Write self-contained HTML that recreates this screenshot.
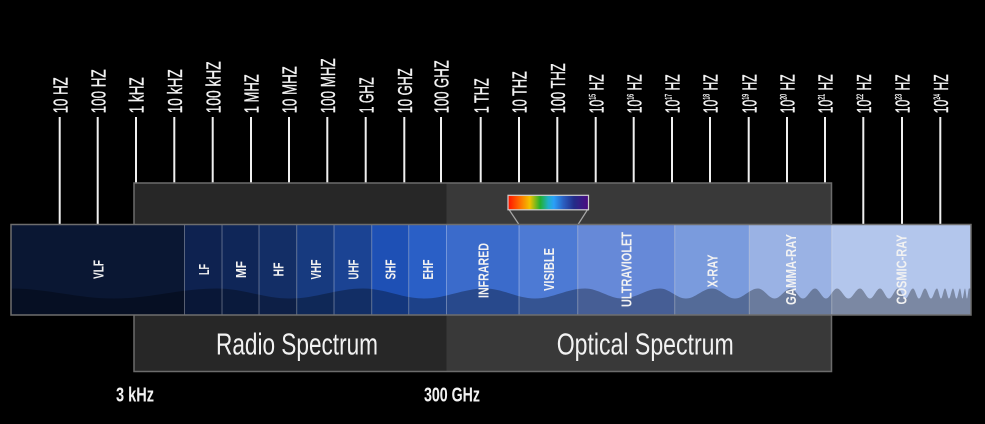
<!DOCTYPE html>
<html><head><meta charset="utf-8"><style>
html,body{margin:0;padding:0;background:#000;}
svg{display:block;}
text{font-family:"Liberation Sans Narrow","Liberation Sans",sans-serif;fill:#f2f2f2;}
</style></head><body>
<svg width="985" height="424" viewBox="0 0 985 424" xmlns="http://www.w3.org/2000/svg">
<defs>
<linearGradient id="rb" x1="0" y1="0" x2="1" y2="0">
<stop offset="0" stop-color="#ff1200"/>
<stop offset="0.14" stop-color="#ff6a00"/>
<stop offset="0.27" stop-color="#f2c200"/>
<stop offset="0.40" stop-color="#22b030"/>
<stop offset="0.50" stop-color="#1fb0c8"/>
<stop offset="0.57" stop-color="#2aa0f8"/>
<stop offset="0.69" stop-color="#2a5ec0"/>
<stop offset="0.82" stop-color="#232c88"/>
<stop offset="1" stop-color="#4c0a80"/>
</linearGradient>
<clipPath id="bandclip"><rect x="11" y="224.5" width="960" height="90.5"/></clipPath>
</defs>
<rect width="985" height="424" fill="#000"/>

<!-- tick lines -->
<g stroke="#f0f0f0" stroke-width="2">
<line x1="59.7" y1="117" x2="59.7" y2="225"/>
<line x1="97.7" y1="117" x2="97.7" y2="225"/>
<line x1="136" y1="117" x2="136" y2="184"/>
<line x1="174.3" y1="117" x2="174.3" y2="184"/>
<line x1="212.7" y1="117" x2="212.7" y2="184"/>
<line x1="251" y1="117" x2="251" y2="184"/>
<line x1="289" y1="117" x2="289" y2="184"/>
<line x1="327.3" y1="117" x2="327.3" y2="184"/>
<line x1="365.7" y1="117" x2="365.7" y2="184"/>
<line x1="404.3" y1="117" x2="404.3" y2="184"/>
<line x1="441" y1="117" x2="441" y2="184"/>
<line x1="480.7" y1="117" x2="480.7" y2="184"/>
<line x1="519" y1="117" x2="519" y2="184"/>
<line x1="557.3" y1="117" x2="557.3" y2="184"/>
<line x1="595.7" y1="117" x2="595.7" y2="184"/>
<line x1="633.7" y1="117" x2="633.7" y2="184"/>
<line x1="672" y1="117" x2="672" y2="184"/>
<line x1="710" y1="117" x2="710" y2="184"/>
<line x1="748.7" y1="117" x2="748.7" y2="184"/>
<line x1="787" y1="117" x2="787" y2="184"/>
<line x1="825" y1="117" x2="825" y2="184"/>
<line x1="863.3" y1="117" x2="863.3" y2="225"/>
<line x1="902" y1="117" x2="902" y2="225"/>
<line x1="940.3" y1="117" x2="940.3" y2="225"/>
</g>

<!-- tick labels -->
<g font-size="20.5" stroke="#f2f2f2" stroke-width="0.35">
<text transform="translate(67.4,113.3) rotate(-90)" textLength="36" lengthAdjust="spacingAndGlyphs">10 HZ</text>
<text transform="translate(105.4,113.3) rotate(-90)" textLength="44" lengthAdjust="spacingAndGlyphs">100 HZ</text>
<text transform="translate(143.7,113.3) rotate(-90)" textLength="36" lengthAdjust="spacingAndGlyphs">1 kHZ</text>
<text transform="translate(182,113.3) rotate(-90)" textLength="44" lengthAdjust="spacingAndGlyphs">10 kHZ</text>
<text transform="translate(220.4,113.3) rotate(-90)" textLength="52" lengthAdjust="spacingAndGlyphs">100 kHZ</text>
<text transform="translate(258.7,113.3) rotate(-90)" textLength="39" lengthAdjust="spacingAndGlyphs">1 MHZ</text>
<text transform="translate(296.7,113.3) rotate(-90)" textLength="47" lengthAdjust="spacingAndGlyphs">10 MHZ</text>
<text transform="translate(335,113.3) rotate(-90)" textLength="55" lengthAdjust="spacingAndGlyphs">100 MHZ</text>
<text transform="translate(373.4,113.3) rotate(-90)" textLength="36" lengthAdjust="spacingAndGlyphs">1 GHZ</text>
<text transform="translate(412,113.3) rotate(-90)" textLength="45" lengthAdjust="spacingAndGlyphs">10 GHZ</text>
<text transform="translate(448.7,113.3) rotate(-90)" textLength="53" lengthAdjust="spacingAndGlyphs">100 GHZ</text>
<text transform="translate(488.4,113.3) rotate(-90)" textLength="35" lengthAdjust="spacingAndGlyphs">1 THZ</text>
<text transform="translate(526.7,113.3) rotate(-90)" textLength="42" lengthAdjust="spacingAndGlyphs">10 THZ</text>
<text transform="translate(565,113.3) rotate(-90)" textLength="50" lengthAdjust="spacingAndGlyphs">100 THZ</text>
<text transform="translate(603.4,113.3) rotate(-90)" textLength="39" lengthAdjust="spacingAndGlyphs">10<tspan font-size="9" dy="-8">15</tspan><tspan dy="8"> HZ</tspan></text>
<text transform="translate(641.4,113.3) rotate(-90)" textLength="39" lengthAdjust="spacingAndGlyphs">10<tspan font-size="9" dy="-8">16</tspan><tspan dy="8"> HZ</tspan></text>
<text transform="translate(679.7,113.3) rotate(-90)" textLength="39" lengthAdjust="spacingAndGlyphs">10<tspan font-size="9" dy="-8">17</tspan><tspan dy="8"> HZ</tspan></text>
<text transform="translate(717.7,113.3) rotate(-90)" textLength="39" lengthAdjust="spacingAndGlyphs">10<tspan font-size="9" dy="-8">18</tspan><tspan dy="8"> HZ</tspan></text>
<text transform="translate(756.4,113.3) rotate(-90)" textLength="39" lengthAdjust="spacingAndGlyphs">10<tspan font-size="9" dy="-8">19</tspan><tspan dy="8"> HZ</tspan></text>
<text transform="translate(794.7,113.3) rotate(-90)" textLength="39" lengthAdjust="spacingAndGlyphs">10<tspan font-size="9" dy="-8">20</tspan><tspan dy="8"> HZ</tspan></text>
<text transform="translate(832.7,113.3) rotate(-90)" textLength="39" lengthAdjust="spacingAndGlyphs">10<tspan font-size="9" dy="-8">21</tspan><tspan dy="8"> HZ</tspan></text>
<text transform="translate(871,113.3) rotate(-90)" textLength="39" lengthAdjust="spacingAndGlyphs">10<tspan font-size="9" dy="-8">22</tspan><tspan dy="8"> HZ</tspan></text>
<text transform="translate(909.7,113.3) rotate(-90)" textLength="39" lengthAdjust="spacingAndGlyphs">10<tspan font-size="9" dy="-8">23</tspan><tspan dy="8"> HZ</tspan></text>
<text transform="translate(948,113.3) rotate(-90)" textLength="39" lengthAdjust="spacingAndGlyphs">10<tspan font-size="9" dy="-8">24</tspan><tspan dy="8"> HZ</tspan></text>
</g>

<!-- gray box -->
<rect x="134" y="183" width="312.5" height="188.5" fill="#272727"/>
<rect x="446.5" y="183" width="385" height="188.5" fill="#393939"/>
<rect x="134" y="183" width="697.5" height="188.5" fill="none" stroke="#6c6c6c" stroke-width="1.5"/>

<!-- rainbow -->
<line x1="509.3" y1="210" x2="519.3" y2="225" stroke="#a8a8a8" stroke-width="1.2"/>
<line x1="587.3" y1="210" x2="577.7" y2="225" stroke="#a8a8a8" stroke-width="1.2"/>
<rect x="508" y="195.3" width="80.5" height="14.5" fill="url(#rb)" stroke="#cfcfcf" stroke-width="1.2"/>

<!-- band segments -->
<g>
<rect x="11" y="224.5" width="173.5" height="90.5" fill="#0a1733"/>
<rect x="184.5" y="224.5" width="37.5" height="90.5" fill="#0e2250"/>
<rect x="222" y="224.5" width="37" height="90.5" fill="#0f2658"/>
<rect x="259" y="224.5" width="37.7" height="90.5" fill="#132e66"/>
<rect x="296.7" y="224.5" width="37.3" height="90.5" fill="#173a7f"/>
<rect x="334" y="224.5" width="37.7" height="90.5" fill="#1b4393"/>
<rect x="371.7" y="224.5" width="37" height="90.5" fill="#1e50b5"/>
<rect x="408.7" y="224.5" width="37.8" height="90.5" fill="#2a5fc6"/>
<rect x="446.5" y="224.5" width="72.5" height="90.5" fill="#3b6bcb"/>
<rect x="519" y="224.5" width="58.7" height="90.5" fill="#4d7ad4"/>
<rect x="577.7" y="224.5" width="97" height="90.5" fill="#6689d8"/>
<rect x="674.7" y="224.5" width="74.6" height="90.5" fill="#7a9bdd"/>
<rect x="749.3" y="224.5" width="82.4" height="90.5" fill="#9ab2e4"/>
<rect x="831.7" y="224.5" width="139.3" height="90.5" fill="#b3c6ec"/>
</g>

<!-- wave -->
<path clip-path="url(#bandclip)" fill="#000" fill-opacity="0.31" d="M11,288.5
C48.1,288.5 76.9,298.5 114,298.5 C151.1,298.5 179.9,288.5 217,288.5
C243.3,288.5 263.7,298.5 290,298.5 C316.3,298.5 336.7,288.5 363,288.5
C385,288.5 402,298.5 424,298.5 C446,298.5 463,288.5 485,288.5
C503,288.5 517,298.5 535,298.5 C553,298.5 567,288.5 585,288.5
C598.7,288.5 608.8,298.5 622.5,298.5 C636.2,298.5 646.3,288.5 660,288.5
C669.5,288.5 676.5,298.5 686,298.5 C695.5,298.5 702.5,288.5 712,288.5
C720.4,288.5 726.6,298.5 735,298.5 C743.4,298.5 749.6,288.5 758,288.5
C764,288.5 768.5,298.5 774.5,298.5 C780.5,298.5 785,288.5 791,288.5
C795.4,288.5 798.6,298.5 803,298.5 C807.4,298.5 810.6,288.5 815,288.5
C819,288.5 822,298.5 826,298.5 C830,298.5 833,288.5 837,288.5
C841.2,288.5 844.3,298.5 848.5,298.5 C852.7,298.5 855.8,288.5 860,288.5
C863.6,288.5 866.4,298.5 870,298.5 C873.6,298.5 876.4,288.5 880,288.5
C883.3,288.5 885.7,298.5 889,298.5 C892.3,298.5 894.7,288.5 898,288.5
C900.7,288.5 902.8,298.5 905.5,298.5 C908.2,298.5 910.3,288.5 913,288.5
C915.2,288.5 916.8,298.5 919,298.5 C921.2,298.5 922.8,288.5 925,288.5
C927.2,288.5 928.8,298.5 931,298.5 C933.2,298.5 934.8,288.5 937,288.5
C938.5,288.5 939.5,298.5 941,298.5 C942.5,298.5 943.5,288.5 945,288.5
C946.5,288.5 947.5,298.5 949,298.5 C950.5,298.5 951.5,288.5 953,288.5
C954.3,288.5 955.2,298.5 956.5,298.5 C957.8,298.5 958.7,288.5 960,288.5
C960.9,288.5 961.6,298.5 962.5,298.5 C963.4,298.5 964.1,288.5 965,288.5
C965.7,288.5 966.3,298.5 967,298.5 C967.7,298.5 968.3,288.5 969,288.5
L971,288.5 L971,316 L11,316 Z"/>

<!-- separators -->
<g stroke="#ffffff" stroke-opacity="0.32" stroke-width="1">
<line x1="184.5" y1="225" x2="184.5" y2="315"/>
<line x1="222" y1="225" x2="222" y2="315"/>
<line x1="259" y1="225" x2="259" y2="315"/>
<line x1="296.7" y1="225" x2="296.7" y2="315"/>
<line x1="334" y1="225" x2="334" y2="315"/>
<line x1="371.7" y1="225" x2="371.7" y2="315"/>
<line x1="408.7" y1="225" x2="408.7" y2="315"/>
<line x1="446.5" y1="225" x2="446.5" y2="315"/>
<line x1="519" y1="225" x2="519" y2="315"/>
<line x1="577.7" y1="225" x2="577.7" y2="315"/>
<line x1="674.7" y1="225" x2="674.7" y2="315"/>
<line x1="749.3" y1="225" x2="749.3" y2="315"/>
<line x1="831.7" y1="225" x2="831.7" y2="315"/>
</g>
<rect x="11" y="224.5" width="960" height="90.5" fill="none" stroke="#6e6e6e" stroke-width="1.5"/>

<!-- band labels -->
<g font-size="15" font-weight="bold" text-anchor="middle">
<text transform="translate(103.3,269.5) rotate(-90)" textLength="19" lengthAdjust="spacingAndGlyphs">VLF</text>
<text transform="translate(208.8,269.5) rotate(-90)" textLength="11" lengthAdjust="spacingAndGlyphs">LF</text>
<text transform="translate(246,269.5) rotate(-90)" textLength="17" lengthAdjust="spacingAndGlyphs">MF</text>
<text transform="translate(283.4,269.5) rotate(-90)" textLength="14" lengthAdjust="spacingAndGlyphs">HF</text>
<text transform="translate(320.9,269.5) rotate(-90)" textLength="20" lengthAdjust="spacingAndGlyphs">VHF</text>
<text transform="translate(358.4,269.5) rotate(-90)" textLength="20" lengthAdjust="spacingAndGlyphs">UHF</text>
<text transform="translate(395.7,269.5) rotate(-90)" textLength="20" lengthAdjust="spacingAndGlyphs">SHF</text>
<text transform="translate(433.1,269.5) rotate(-90)" textLength="20" lengthAdjust="spacingAndGlyphs">EHF</text>
<text transform="translate(488.3,270.5) rotate(-90)" textLength="55" lengthAdjust="spacingAndGlyphs">INFRARED</text>
<text transform="translate(553.8,269.5) rotate(-90)" textLength="43" lengthAdjust="spacingAndGlyphs">VISIBLE</text>
<text transform="translate(631.7,269.5) rotate(-90)" textLength="75" lengthAdjust="spacingAndGlyphs">ULTRAVIOLET</text>
<text transform="translate(717.5,271) rotate(-90)" textLength="33" lengthAdjust="spacingAndGlyphs">X-RAY</text>
<text transform="translate(796,269.5) rotate(-90)" textLength="71" lengthAdjust="spacingAndGlyphs">GAMMA-RAY</text>
<text transform="translate(906.5,269.5) rotate(-90)" textLength="70" lengthAdjust="spacingAndGlyphs">COSMIC-RAY</text>
</g>

<!-- bottom labels -->
<text x="216" y="354.5" font-size="31" textLength="162" lengthAdjust="spacingAndGlyphs" fill="#ececec">Radio Spectrum</text>
<text x="556.7" y="354.5" font-size="31" textLength="177" lengthAdjust="spacingAndGlyphs" fill="#ececec">Optical Spectrum</text>
<text x="116" y="401.7" font-size="20" font-weight="bold" textLength="38" lengthAdjust="spacingAndGlyphs">3 kHz</text>
<text x="424" y="401.7" font-size="20" font-weight="bold" textLength="56" lengthAdjust="spacingAndGlyphs">300 GHz</text>
</svg>
</body></html>
